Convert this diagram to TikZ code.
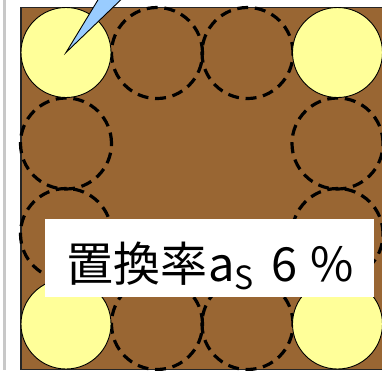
\documentclass[tikz,border=0pt]{standalone}
\usepackage{fontspec}
\newfontfamily\jpfont{Noto Sans CJK JP}
\definecolor{soil}{HTML}{996633}
\definecolor{pile}{HTML}{FFFF99}
\definecolor{callout}{HTML}{99CCFF}
\definecolor{rulegrey}{HTML}{C8C8C8}
\tikzset{
  ground/.style={rectangle, draw=black!85, line width=1.4pt, fill=soil, minimum width=362pt, minimum height=362pt, inner sep=0pt},
  oldpile/.style={circle, draw=black, line width=3.2pt, dash pattern=on 11pt off 6.7pt, minimum size=91pt, inner sep=0pt},
  newpile/.style={circle, draw=black, line width=0.9pt, fill=pile, minimum size=90pt, inner sep=0pt},
  labelbox/.style={rectangle, fill=white, minimum width=329pt, minimum height=78pt, inner sep=0pt},
  pointer/.style={fill=callout, draw=black, line width=0.9pt, line join=miter}
}
\begin{document}
\begin{tikzpicture}[x=1pt,y=-1pt]
\useasboundingbox (0,0) rectangle (382,370);
\clip (0,0) rectangle (382,370);
\fill[rulegrey] (2.5,0) rectangle (6,370);
\node[ground] (sq) at (202,188.5) {};
% dashed (former) circles on the perimeter
\node[oldpile] (d1) at (157,53) {};
\node[oldpile] (d2) at (247.5,53) {};
\node[oldpile] (d3) at (66,143.5) {};
\node[oldpile] (d4) at (66,234) {};
\node[oldpile] (d5) at (337.5,143.5) {};
\node[oldpile] (d6) at (337.5,234) {};
\node[oldpile] (d7) at (157,324) {};
\node[oldpile] (d8) at (247.5,324) {};
% yellow corner circles
\node[newpile] (c1) at (66,52.5) {};
\node[newpile] (c2) at (337.5,52.5) {};
\node[newpile] (c3) at (66,324) {};
\node[newpile] (c4) at (337.5,324) {};
% callout pointer
\coordinate (pl) at (104,-10);
\coordinate (pr) at (131,-10);
\draw[pointer] (c1.center) -- (pl) -- (pr) -- cycle;
% label
\node[labelbox] (box) at (209.5,258) {};
\node[anchor=base west, inner sep=0pt, font=\jpfont\fontsize{47}{47}\selectfont] (lbl) at (66,281)
  {置換率\hspace{1pt}a\raisebox{-8pt}{\fontsize{32}{32}\selectfont S}\hspace{18pt}6\hspace{13pt}\%};
\end{tikzpicture}
\end{document}
